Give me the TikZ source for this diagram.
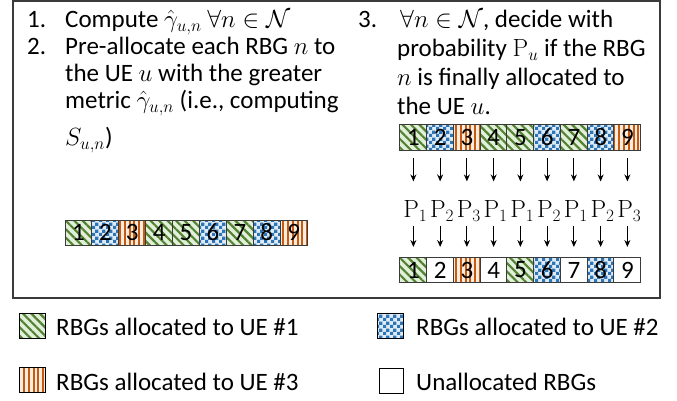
\documentclass[tikz,border=0pt]{standalone}
\usepackage[no-math]{fontspec}
\setmainfont{Carlito}
\usetikzlibrary{patterns.meta,arrows.meta}
\definecolor{gdark}{HTML}{548235}
\definecolor{glight}{HTML}{E2F0D9}
\definecolor{bdark}{HTML}{2E75B6}
\definecolor{blight}{HTML}{DEEBF7}
\definecolor{odark}{HTML}{C55A11}
\definecolor{olight}{HTML}{FCEBDF}
\definecolor{frame}{HTML}{3A3A3A}
\pgfdeclarepattern{
  name=checker,
  type=uncolored,
  bottom left={\pgfpoint{0pt}{0pt}},
  top right={\pgfpoint{6.6pt}{6.6pt}},
  tile size={\pgfpoint{6.6pt}{6.6pt}},
  code={
    \pgfpathrectangle{\pgfpointorigin}{\pgfpoint{3.3pt}{3.3pt}}
    \pgfpathrectangle{\pgfpoint{3.3pt}{3.3pt}}{\pgfpoint{3.3pt}{3.3pt}}
    \pgfusepath{fill}
  }
}
\tikzset{
  txt/.style={anchor=base west, inner sep=0pt, font=\fontsize{25}{28}\selectfont},
  cell/.style={draw=frame, line width=1pt, minimum width=26.8pt, minimum height=25pt,
    inner sep=0pt, font=\fontsize{25}{25}\selectfont},
  ueA/.style={preaction={fill=glight}, pattern={Lines[angle=-45,distance=6pt,line width=2.2pt]}, pattern color=gdark},
  ueB/.style={preaction={fill=blight}, pattern=checker, pattern color=bdark},
  ueC/.style={preaction={fill=olight}, pattern={Lines[angle=90,distance=4.8pt,line width=2pt]}, pattern color=odark},
  ueN/.style={fill=white},
  plabel/.style={inner sep=0pt, font=\fontsize{23}{23}\selectfont},
  arr/.style={line width=1pt, -{Stealth[length=7pt,width=6pt]}},
  legicon/.style={draw=black, line width=1pt, minimum width=26pt, minimum height=25pt, inner sep=0pt},
}
\begin{document}
\begin{tikzpicture}[x=1pt,y=-1pt]
\useasboundingbox (0,0) rectangle (677,401);
\fill[white] (0,0) rectangle (677,401);
\draw[frame, line width=1.5pt] (13,1) rectangle (660,298);

% left column
\node[txt] (n1) at (27,28) {1.};
\node[txt] (l1) at (65,28) {Compute $\hat{\gamma}_{u,n}$ $\forall n\in\mathcal{N}$};
\node[txt] (n2) at (27,55) {2.};
\node[txt] (l2) at (65,55) {Pre-allocate each RBG $n$ to};
\node[txt] (l3) at (65,82) {the UE $u$ with the greater};
\node[txt] (l4) at (65,109) {metric $\hat{\gamma}_{u,n}$ (i.e., computing};
\node[txt] (l5) at (65,146) {$S_{u,n}$)};

% right column
\node[txt] (n3) at (358,28) {3.};
\node[txt] (r1) at (400,28) {$\forall n\in\mathcal{N}$, decide with};
\node[txt] (r2) at (397,57) {probability $\mathrm{P}_u$ if the RBG};
\node[txt] (r3) at (397,86) {$n$ is finally allocated to};
\node[txt] (r4) at (397,115) {the UE $u$.};

% left bar
\foreach \i/\s in {1/ueA,2/ueB,3/ueC,4/ueA,5/ueA,6/ueB,7/ueA,8/ueB,9/ueC}{
  \node[cell,\s] (a\i) at ({65+26.9*(\i-0.5)},232.5) {\i};
}
% right top bar
\foreach \i/\s in {1/ueA,2/ueB,3/ueC,4/ueA,5/ueA,6/ueB,7/ueA,8/ueB,9/ueC}{
  \node[cell,\s] (t\i) at ({400+26.75*(\i-0.5)},137.5) {\i};
}
% right bottom bar
\foreach \i/\s in {1/ueA,2/ueN,3/ueC,4/ueN,5/ueA,6/ueB,7/ueN,8/ueB,9/ueN}{
  \node[cell,\s] (b\i) at ({400+26.75*(\i-0.5)},270) {\i};
}
% probabilities
\foreach \i/\k in {1/1,2/2,3/3,4/1,5/1,6/2,7/1,8/2,9/3}{
  \node[plabel] (p\i) at ({402+26.75*(\i-0.5)},211) {$\mathrm{P}_{\k}$};
  \draw[arr, shorten <=7pt, shorten >=19pt] (t\i.south) -- (t\i.south |- p\i.north);
  \draw[arr, shorten <=4pt, shorten >=10pt] (t\i.south |- p\i.south) -- (b\i.north);
}

% legend
\node[legicon,ueA] (k1) at (32.5,325.5) {};
\node[txt] (k1t) at (56,335) {RBGs allocated to UE \#1};
\node[legicon,ueB] (k2) at (390,325.5) {};
\node[txt] (k2t) at (416,335) {RBGs allocated to UE \#2};
\node[legicon,ueC] (k3) at (32.5,380) {};
\node[txt] (k3t) at (56,390) {RBGs allocated to UE \#3};
\node[legicon,ueN,minimum width=24pt] (k4) at (391,380.5) {};
\node[txt] (k4t) at (416,390) {Unallocated RBGs};
\end{tikzpicture}
\end{document}
